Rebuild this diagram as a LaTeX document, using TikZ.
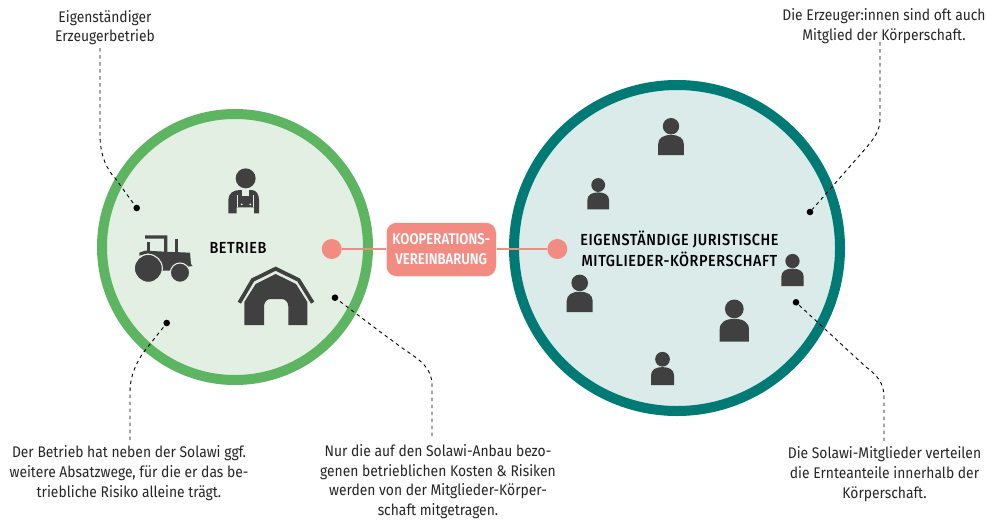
\documentclass[tikz,border=0pt]{standalone}
\usepackage{fontspec}
\setmainfont[FakeStretch=0.9]{Fira Sans}
\newfontfamily\headf[FakeStretch=0.9,LetterSpace=3.5]{Fira Sans Medium}
\newfontfamily\koopf[FakeStretch=0.85]{Fira Sans SemiBold}
\begin{document}
\begin{tikzpicture}[x=1pt,y=-1pt,
  caption/.style={align=center,font=\fontsize{15.4}{19.7}\selectfont,text=black!85,inner sep=0pt},
  head/.style={align=center,font=\headf\fontsize{16}{21}\selectfont,text=black,inner sep=0pt},
  leader/.style={black,line width=0.9pt,dash pattern=on 3.5pt off 3.5pt},
  dotnode/.style={circle,fill=black,inner sep=0pt,minimum size=6.6pt},
  pinkdot/.style={circle,fill=salmon,inner sep=0pt,minimum size=20pt},
  icon/.style={fill=iconc,draw=none},
  person/.pic={\fill[iconc] (-.5,0) -- (-.5,-.42) .. controls (-.5,-.66) and (-.3,-.78) .. (0,-.78) .. controls (.3,-.78) and (.5,-.66) .. (.5,-.42) -- (.5,0) -- cycle; \fill[iconc] (0,-1.12) circle[radius=.32];}
]
\definecolor{salmon}{HTML}{F28B82}
\definecolor{iconc}{HTML}{404040}
\definecolor{gring}{HTML}{5DB562}
\definecolor{gfill}{HTML}{E3EFE3}
\definecolor{tring}{HTML}{007A75}
\definecolor{tfill}{HTML}{DAEBEA}
\useasboundingbox (0,0) rectangle (987,520);
\fill[white] (0,0) rectangle (987,520);
% circles
\node[circle,draw=gring,fill=gfill,line width=10pt,minimum size=266pt,inner sep=0pt] (farm) at (235,247) {};
\node[circle,draw=tring,fill=tfill,line width=10pt,minimum size=326pt,inner sep=0pt] (corp) at (677,248) {};
% link
\node[pinkdot] (da) at (331.7,249) {};
\node[pinkdot] (db) at (557.3,249) {};
\draw[salmon,line width=2.4pt] (da) -- (db);
\node[fill=salmon,draw=white,line width=.5pt,rounded corners=10pt,minimum width=110pt,minimum height=54pt,inner sep=0pt,align=center,text=white,font=\koopf\fontsize{15.5}{20}\selectfont] (koop) at (441.3,249.5) {KOOPERATIONS-\\VEREINBARUNG};
% labels
\node[head] (betrieb) at (238,248) {BETRIEB};
\node[head] (mk) at (679.5,248.5) {EIGENSTÄNDIGE JURISTISCHE\\MITGLIEDER-KÖRPERSCHAFT};
% people
\pic[scale=25.7] at (671,155) {person};
\pic[scale=21.7] at (598.2,209.3) {person};
\pic[scale=26] at (579.7,312) {person};
\pic[scale=29.3] at (734.3,341.7) {person};
\pic[scale=23] at (662.5,385) {person};
\pic[scale=22.3] at (792.5,286) {person};
% icons in zoom coordinates
\begin{scope}[shift={(90,100)},scale=1/3]
 % farmer
 \fill[icon] (467,235) circle[radius=30];
 \fill[icon] (415,340) -- (415,300) .. controls (415,280) and (430,270) .. (450,270) -- (485,270) .. controls (500,270) and (507,285) .. (507,300) -- (507,340) -- (492,340) -- (492,322) -- (440,322) -- (440,340) -- cycle;
 \fill[gfill] (456,268) rectangle (478,288);
 \draw[gfill,line width=.9pt] (443,285) -- (443,322) (489,285) -- (489,322);
 \fill[gfill] (455,313) circle[radius=3] (481,313) circle[radius=3];
 % tractor
 \fill[icon] (148,467) -- (148,458) -- (165,452) -- (225,455) -- (300,458) -- (303,492) -- (308,498) -- (255,505) -- (240,512) -- (215,512) -- (215,490) -- (175,460) -- cycle;
 \fill[icon] (165,406) -- (232,406) -- (232,458) -- (222,458) -- (222,416) -- (165,416) -- cycle;
 \fill[icon] (170,425) rectangle (180,455);
 \fill[icon] (254,418) rectangle (263,458);
 \fill[iconc,draw=gfill,line width=1.1pt] (175,505) circle[radius=42];
 \fill[iconc,draw=gfill,line width=1.1pt] (270,518) circle[radius=29];
 % barn
 \draw[iconc,line width=3.8pt,line join=miter] (448,608) -- (488,540) -- (557,506) -- (626,540) -- (668,608);
 \fill[icon] (463,675) -- (463,606) -- (497,552) -- (557,522) -- (618,552) -- (652,606) -- (652,675) -- (595,675) -- (595,620) .. controls (595,605) and (585,597) .. (575,597) -- (542,597) .. controls (532,597) and (522,605) .. (522,620) -- (522,675) -- cycle;
\end{scope}
% leaders
\node[dotnode] (d1) at (136.7,208) {};
\node[dotnode] (d2) at (166.7,323) {};
\node[dotnode] (d3) at (335,297.7) {};
\node[dotnode] (d4) at (810,212) {};
\node[dotnode] (d5) at (796,302.3) {};
\coordinate (e1) at (100,48);
\coordinate (e2) at (130,440);
\coordinate (e3) at (432,436);
\coordinate (e4) at (880,42);
\coordinate (e5) at (884,441);
\draw[leader] (e1) -- (100,135) .. controls (100,155) and (107,170) .. (115,178) -- (d1);
\draw[leader] (e2) -- (130,392) .. controls (130,375) and (137,362) .. (143,353) -- (d2);
\draw[leader] (e3) -- (432,385) .. controls (432,368) and (420,360) .. (405,350) -- (380,331.7) -- (d3);
\draw[leader] (e4) -- (880,118) .. controls (880,132) and (874,138) .. (866,148) -- (d4);
\draw[leader] (e5) -- (884,397) .. controls (884,383) and (877,375) .. (866,367) -- (d5);
% captions
\node[caption] (t1) at (105,27.5) {Eigenständiger\\Erzeugerbetrieb};
\node[caption] (t2) at (129,473) {Der Betrieb hat neben der Solawi ggf.\\weitere Absatzwege, für die er das be-\\triebliche Risiko alleine trägt.};
\node[caption] (t3) at (438,481.5) {Nur die auf den Solawi-Anbau bezo-\\genen betrieblichen Kosten \& Risiken\\werden von der Mitglieder-Körper-\\schaft mitgetragen.};
\node[caption] (t4) at (884,26) {Die Erzeuger:innen sind oft auch\\Mitglied der Körperschaft.};
\node[caption] (t5) at (884.5,474) {Die Solawi-Mitglieder verteilen\\die Ernteanteile innerhalb der\\Körperschaft.};
\end{tikzpicture}
\end{document}
